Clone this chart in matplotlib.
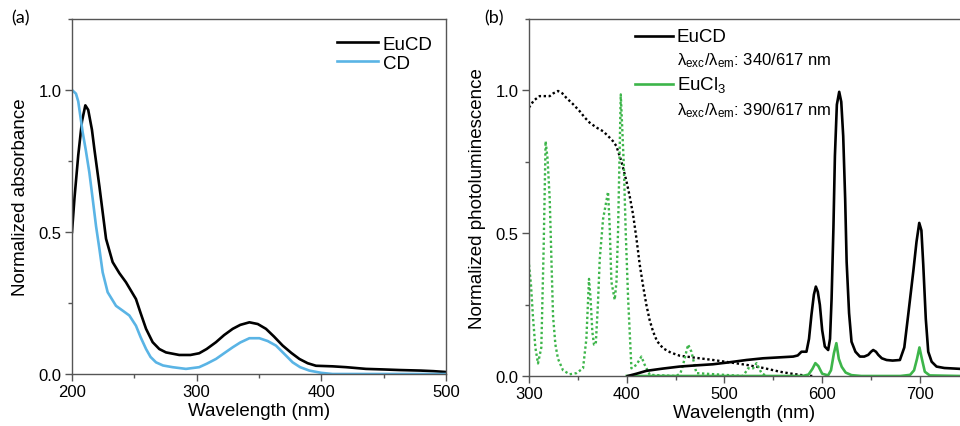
import matplotlib
matplotlib.use("Agg")
import matplotlib.pyplot as plt
from matplotlib.ticker import MultipleLocator

plt.rcParams['font.family'] = ['Liberation Sans', 'DejaVu Sans']
plt.rcParams['mathtext.fontset'] = 'custom'
plt.rcParams['mathtext.rm'] = 'Liberation Sans'
plt.rcParams['mathtext.it'] = 'Liberation Sans:italic'
plt.rcParams['mathtext.bf'] = 'Liberation Sans:bold'

# ---------------- Panel (a): absorbance ----------------
eucd_abs_x = [200, 202, 205, 208, 210.7, 213, 216, 218, 222, 227.3, 232.6, 238, 243.3, 251.3, 255, 259.4,
              264.7, 270, 275.4, 286, 295, 302, 308, 315.5, 322, 328.9, 335, 342.3, 349, 355.6, 362,
              369, 376, 382.4, 389, 395.7, 409, 420, 435.8, 450, 462.6, 480, 490, 500]
eucd_abs_y = [0.50, 0.62, 0.77, 0.89, 0.946, 0.93, 0.86, 0.79, 0.66, 0.476, 0.394, 0.355, 0.323, 0.264, 0.215, 0.159,
              0.112, 0.088, 0.076, 0.067, 0.067, 0.073, 0.088, 0.112, 0.137, 0.159, 0.173, 0.182, 0.176, 0.159, 0.132,
              0.100, 0.074, 0.053, 0.038, 0.029, 0.027, 0.024, 0.018, 0.016, 0.014, 0.012, 0.010, 0.007]

cd_abs_x = [200, 203.2, 205, 208.6, 211, 213.9, 216.5, 219.3, 222, 224.6, 228.6, 235.3, 241, 246, 251.3, 255,
            259.4, 263, 267.4, 273, 280.7, 291.4, 302, 308, 315.5, 322, 328.9, 335, 342.3, 350.3, 357,
            363.6, 370, 377, 383, 390.4, 400, 409, 450, 500]
cd_abs_y = [1.0, 0.987, 0.96, 0.85, 0.79, 0.71, 0.62, 0.52, 0.44, 0.358, 0.288, 0.240, 0.222, 0.206, 0.17, 0.13,
            0.088, 0.06, 0.041, 0.03, 0.024, 0.018, 0.024, 0.036, 0.053, 0.073, 0.094, 0.111, 0.126, 0.126, 0.116,
            0.100, 0.072, 0.041, 0.024, 0.012, 0.004, 0.0, 0.0, 0.0]

# ---------------- Panel (b): photoluminescence ----------------
eucd_exc_x = [300, 305, 310.9, 316, 321.2, 325, 329.7, 334, 338.2, 345, 351.9, 357, 362.1, 369, 375.8, 381,
              386, 389.4, 394.5, 399.7, 403, 406.5, 410, 413.3, 417, 420.1, 423.5, 426.9, 431, 437.2, 445,
              454.3, 470, 488.4, 505, 522.5, 540, 556.7, 567, 577.1, 585, 590]
eucd_exc_y = [0.94, 0.965, 0.98, 0.98, 0.98, 0.99, 0.998, 0.99, 0.974, 0.952, 0.927, 0.905, 0.887, 0.87, 0.857, 0.84,
              0.822, 0.805, 0.752, 0.682, 0.63, 0.565, 0.48, 0.39, 0.31, 0.249, 0.195, 0.156, 0.122, 0.097, 0.082,
              0.071, 0.064, 0.056, 0.048, 0.039, 0.028, 0.015, 0.009, 0.004, 0.001, 0.0]

eucd_em_x = [401, 410, 420, 437, 454, 470, 488, 505, 522.5, 539.6, 555, 570.3, 575, 578.8, 583.9, 586.5, 589,
             591.5, 593.5, 595.5, 597.6, 600, 602.7, 606.1, 608, 609.6, 611.5, 613, 615, 617.4, 619.5, 621.5,
             623.5, 625, 627.5, 630, 634, 638.6, 643, 647.1, 650, 652.2, 655, 657.4, 661, 665.9, 672, 679.5,
             684, 688, 693.2, 696.5, 699.3, 701.5, 703.4, 706, 708.5, 712, 717, 725, 741]
eucd_em_y = [0.0, 0.008, 0.018, 0.026, 0.033, 0.037, 0.041, 0.048, 0.056, 0.062, 0.065, 0.068, 0.072, 0.085, 0.085, 0.13, 0.214,
             0.285, 0.313, 0.295, 0.249, 0.16, 0.103, 0.091, 0.13, 0.27, 0.52, 0.77, 0.95, 0.995, 0.96, 0.84,
             0.62, 0.40, 0.22, 0.12, 0.085, 0.068, 0.068, 0.074, 0.085, 0.091, 0.085, 0.074, 0.062, 0.056, 0.054, 0.056,
             0.10, 0.214, 0.366, 0.47, 0.536, 0.51, 0.39, 0.20, 0.085, 0.05, 0.033, 0.028, 0.025]

eucl_em_x = [400, 500, 580, 586, 590, 593, 596, 600, 606, 609, 612, 614.5, 617, 620, 624, 630, 640, 680,
             690, 694, 697, 699.5, 702, 705, 710, 741]
eucl_em_y = [0.0, 0.0, 0.0, 0.005, 0.025, 0.045, 0.035, 0.008, 0.002, 0.02, 0.08, 0.115, 0.06, 0.032, 0.012, 0.003, 0.0, 0.0,
             0.004, 0.02, 0.06, 0.10, 0.06, 0.015, 0.002, 0.0]

eucl_exc_x = [300, 302, 304, 306.5, 309.2, 312.6, 315, 317, 319, 321.2, 323, 324.6, 327, 329.7, 334.8, 341.6,
              348.5, 355.3, 358.7, 361.4, 363, 364.8, 366.5, 368.3, 370.5, 372.4, 375.8, 378.5, 380.9, 382.6,
              384.3, 387.7, 389.5, 391.1, 393.9, 397, 399, 401.4, 404.8, 409.9, 415, 418.4, 423.6, 450.9,
              455, 457.7, 462.8, 466.2, 471.3, 519.1, 524.2, 529.3, 532.8, 537.9, 543]
eucl_exc_y = [0.39, 0.32, 0.21, 0.10, 0.044, 0.10, 0.45, 0.822, 0.76, 0.62, 0.40, 0.21, 0.11, 0.06, 0.02, 0.006,
              0.01, 0.027, 0.13, 0.34, 0.27, 0.155, 0.11, 0.11, 0.25, 0.41, 0.55, 0.60, 0.645, 0.52,
              0.33, 0.267, 0.33, 0.506, 0.986, 0.74, 0.50, 0.272, 0.027, 0.039, 0.068, 0.039, 0.004, 0.0,
              0.01, 0.04, 0.11, 0.085, 0.01, 0.0, 0.027, 0.027, 0.045, 0.01, 0.0]

BLUE = '#5ab4e5'
GREEN = '#3db54a'
SPINE = '#555555'
LW = 1.9

fig = plt.figure(figsize=(9.6, 4.27), dpi=100)
W, H = 960, 427
ax1 = fig.add_axes([72 / W, 1 - 375 / H, (446 - 72) / W, (375 - 20) / H])
ax2 = fig.add_axes([529 / W, 1 - 377 / H, (960 - 529) / W, (377 - 20) / H])

def style(ax):
    for s in ax.spines.values():
        s.set_color(SPINE)
        s.set_linewidth(1.0)
    ax.tick_params(which='major', direction='out', length=5, width=1, color=SPINE,
                   labelsize=12, pad=2.5)
    ax.tick_params(which='minor', direction='out', length=3, width=1, color=SPINE)

ax1.plot(eucd_abs_x, eucd_abs_y, color='black', lw=LW, label='EuCD')
ax1.plot(cd_abs_x, cd_abs_y, color=BLUE, lw=LW, label='CD')
ax1.set_xlim(200, 500)
ax1.set_ylim(0, 1.25)
ax1.set_xticks([200, 300, 400, 500])
ax1.set_yticks([0.0, 0.5, 1.0])
ax1.xaxis.set_minor_locator(MultipleLocator(50))
ax1.yaxis.set_minor_locator(MultipleLocator(0.25))
ax1.set_xlabel('Wavelength (nm)', fontsize=13.5, labelpad=2)
ax1.set_ylabel('Normalized absorbance', fontsize=13.5, labelpad=7)
style(ax1)
ax1.legend(loc='upper right', bbox_to_anchor=(1.0, 0.99), frameon=False, fontsize=13.5,
           handlelength=2.2, handletextpad=0.25, labelspacing=0.1, borderaxespad=0.3)

ax2.plot(eucd_exc_x, eucd_exc_y, color='black', lw=1.7, ls=(0, (1, 1.1)))
ax2.plot(eucl_exc_x, eucl_exc_y, color=GREEN, lw=1.7, ls=(0, (1, 1.1)))
ax2.plot(eucl_em_x, eucl_em_y, color=GREEN, lw=LW)
ax2.plot(eucd_em_x, eucd_em_y, color='black', lw=LW)
ax2.set_xlim(300, 741)
ax2.set_ylim(0, 1.25)
ax2.set_xticks([300, 400, 500, 600, 700])
ax2.set_yticks([0.0, 0.5, 1.0])
ax2.xaxis.set_minor_locator(MultipleLocator(50))
ax2.yaxis.set_minor_locator(MultipleLocator(0.25))
ax2.set_xlabel('Wavelength (nm)', fontsize=13.5, labelpad=2)
ax2.set_ylabel('Normalized photoluminescence', fontsize=13.5, labelpad=7)
style(ax2)
ax2.spines['right'].set_visible(False)

# custom legend for panel (b)
def px(x, y):
    return (x / W, 1 - y / H)

for (y, col, lab) in [(37, 'black', 'EuCD'), (85, GREEN, r'EuCl$_{\mathregular{3}}$')]:
    fig.add_artist(plt.Line2D([635 / W, 673 / W], [1 - y / H, 1 - y / H], color=col, lw=LW))
    fig.text(*px(677, y), lab, fontsize=13.5, va='center', ha='left')
fig.text(*px(677, 61), r'$\mathregular{λ_{exc}/λ_{em}}$: 340/617 nm', fontsize=12,
         va='center', ha='left')
fig.text(*px(677, 111), r'$\mathregular{λ_{exc}/λ_{em}}$: 390/617 nm', fontsize=12,
         va='center', ha='left')

fig.text(*px(11, 18), '(a)', fontsize=13, family=['Lato', 'DejaVu Sans'], va='center', ha='left')
fig.text(*px(484, 18), '(b)', fontsize=13, family=['Lato', 'DejaVu Sans'], va='center', ha='left')

fig.savefig('out.png', dpi=100)
